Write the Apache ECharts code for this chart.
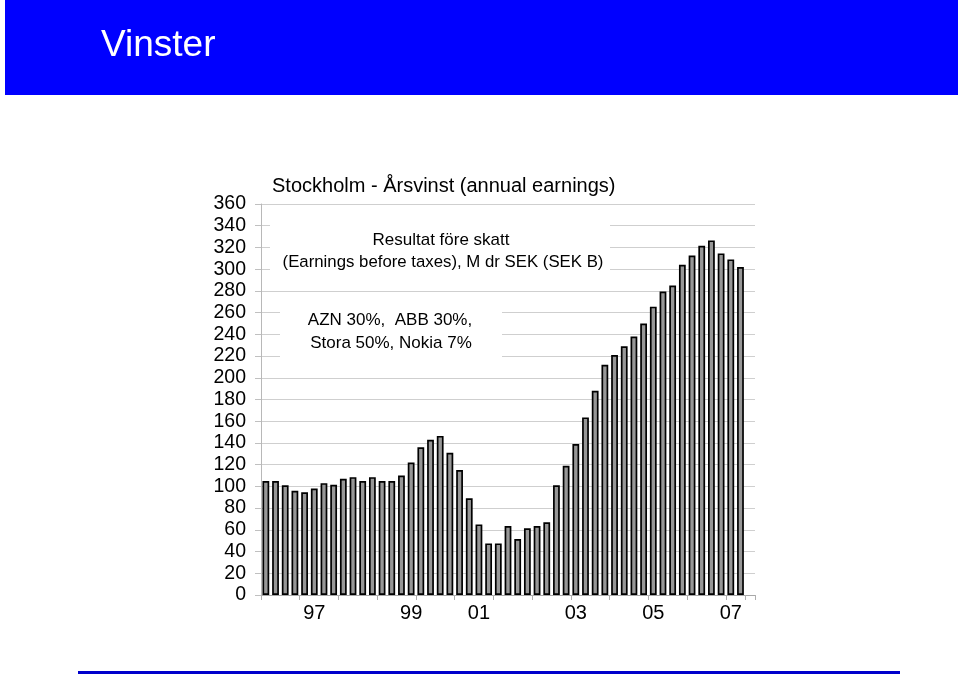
<!DOCTYPE html>
<html>
<head>
<meta charset="utf-8">
<style>html,body{margin:0;padding:0;background:#fff;}#c{width:960px;height:676px;}</style>
<script src="https://cdn.jsdelivr.net/npm/echarts@6/dist/echarts.min.js"></script>
</head>
<body>
<div id="c"></div>
<script>
// Quarterly categories (rolling annual earnings), 1995 Q1 .. 2007 Q2
const categories = [
  '95Q1','95Q2','95Q3','95Q4','96Q1','96Q2','96Q3','96Q4',
  '97Q1','97Q2','97Q3','97Q4','98Q1','98Q2','98Q3','98Q4',
  '99Q1','99Q2','99Q3','99Q4','00Q1','00Q2','00Q3','00Q4',
  '01Q1','01Q2','01Q3','01Q4','02Q1','02Q2','02Q3','02Q4',
  '03Q1','03Q2','03Q3','03Q4','04Q1','04Q2','04Q3','04Q4',
  '05Q1','05Q2','05Q3','05Q4','06Q1','06Q2','06Q3','06Q4',
  '07Q1','07Q2'
];
// Earnings before taxes, Mdr SEK
const earnings = [
  105, 105, 101, 96, 94.5, 98, 103, 101.5, 107, 108.5,
  105, 108.5, 105, 105, 110, 122, 136, 143, 146.5, 131,
  115, 89, 65, 47.5, 47.5, 63.5, 51.5, 61.5, 63.5, 67,
  101, 119, 139, 163.5, 188, 212, 221, 229, 238, 250,
  265.5, 279.5, 285, 304, 312.5, 321.5, 326.5, 314.5, 309, 302
];
// x tick labels: category index -> label
const xLabelIndex = [5, 15, 22, 32, 40, 48];
const xLabelText = ['97', '99', '01', '03', '05', '07'];
const yMin = 0, yMax = 360, yStep = 20;

const FONT = 'Liberation Sans, Arial, sans-serif';
const chart = echarts.init(document.getElementById('c'), null, {renderer: 'canvas'});
chart.setOption({
  animation: false,
  backgroundColor: '#ffffff',
  title: {
    text: 'Stockholm - Årsvinst (annual earnings)',
    left: 267, top: 171,
    textStyle: {fontFamily: FONT, fontSize: 20, fontWeight: 'normal', color: '#000'}
  },
  grid: {left: 261, right: 205, top: 204, bottom: 81, containLabel: false},
  xAxis: {
    type: 'category',
    data: categories,
    max: categories.length,
    axisLine: {show: true, lineStyle: {color: '#a8a8a8', width: 1}},
    axisTick: {show: true, alignWithLabel: false, interval: 3, length: 5, lineStyle: {color: '#b0b0b0'}},
    axisLabel: {
      interval: 0,
      margin: 8,
      fontFamily: FONT, fontSize: 20, color: '#000',
      formatter: function (v, i) {
        const k = xLabelIndex.indexOf(i);
        return k >= 0 ? xLabelText[k] : '';
      }
    },
    splitLine: {show: false}
  },
  yAxis: {
    type: 'value',
    min: yMin, max: yMax, interval: yStep,
    axisLine: {show: true, lineStyle: {color: '#b8b8b8', width: 1}},
    axisTick: {show: true, length: 6, lineStyle: {color: '#c0c0c0'}},
    axisLabel: {margin: 15, fontFamily: FONT, fontSize: 19.5, color: '#000'},
    splitLine: {show: true, lineStyle: {color: '#cfcfcf', width: 1}}
  },
  series: [{
    type: 'bar',
    data: earnings,
    barWidth: 6.8,
    itemStyle: {color: '#979797', borderColor: '#000', borderWidth: 1.7}
  }],
  graphic: [
    {type: 'rect', left: 5, top: 0, shape: {width: 953, height: 95}, style: {fill: '#0000ff'}, z: 10},
    {type: 'text', left: 101, top: 27, style: {text: 'Vinster', fill: '#ffffff', font: '37px ' + FONT}, z: 11},
    {type: 'rect', left: 78, top: 671, shape: {width: 822, height: 3}, style: {fill: '#0000cc'}, z: 10},
    {type: 'rect', left: 270, top: 212, shape: {width: 340, height: 72}, style: {fill: '#ffffff'}, z: 5},
    {type: 'text', x: 441, y: 240, style: {text: 'Resultat före skatt', fill: '#000', font: '17px ' + FONT, textAlign: 'center', textVerticalAlign: 'middle'}, z: 6},
    {type: 'text', x: 443, y: 262, style: {text: '(Earnings before taxes), M dr SEK (SEK B)', fill: '#000', font: '16.8px ' + FONT, textAlign: 'center', textVerticalAlign: 'middle'}, z: 6},
    {type: 'rect', left: 280, top: 300, shape: {width: 222, height: 63}, style: {fill: '#ffffff'}, z: 5},
    {type: 'text', x: 390, y: 320, style: {text: 'AZN 30%,  ABB 30%,', fill: '#000', font: '17px ' + FONT, textAlign: 'center', textVerticalAlign: 'middle'}, z: 6},
    {type: 'text', x: 391, y: 343, style: {text: 'Stora 50%, Nokia 7%', fill: '#000', font: '17px ' + FONT, textAlign: 'center', textVerticalAlign: 'middle'}, z: 6}
  ]
});
</script>
</body>
</html>
